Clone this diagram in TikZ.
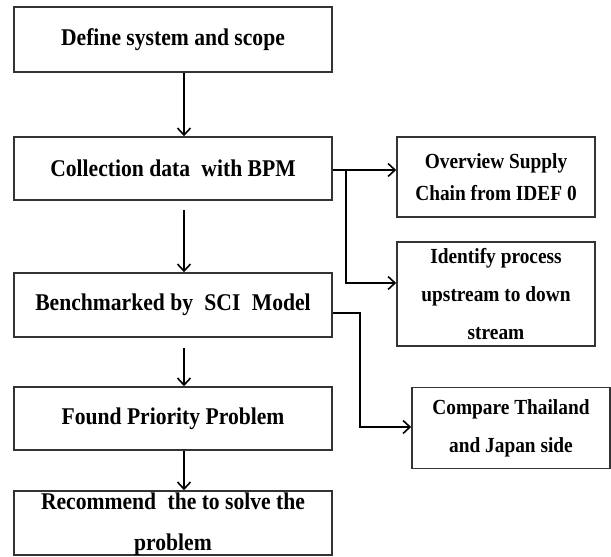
\documentclass[tikz,border=0pt]{standalone}
\usepackage{fontspec}
\setmainfont[FakeStretch=0.9]{Liberation Serif}
\usetikzlibrary{arrows.meta}
\begin{document}
\begin{tikzpicture}[x=1pt,y=-1pt,
  box/.style={draw=black!80, line width=1.6pt, rectangle, inner sep=0pt, align=center,
    font=\bfseries\fontsize{24}{28}\selectfont},
  mainbox/.style={box, minimum width=318pt},
  sidebox/.style={box, minimum width=198pt, font=\bfseries\fontsize{21.5}{38}\selectfont},
  txt/.style={inner sep=0pt, font=\bfseries\fontsize{24}{28}\selectfont},
  link/.style={draw=black, line width=1.6pt},
  flow/.style={link, -{Straight Barb[length=7pt,width=13pt,line width=1.6pt]}}]

\useasboundingbox (0,0) rectangle (611,557);

% main column
\node[mainbox, minimum height=65pt] (define) at (173,39.5) {Define system and scope};
\node[mainbox, minimum height=63pt] (collect) at (173,168.5) {Collection data\hspace{0.25em} with BPM};
\node[mainbox, minimum height=64pt] (bench) at (173,305) {Benchmarked by\hspace{0.25em} SCI\hspace{0.25em} Model};
\node[mainbox, minimum height=63pt] (found) at (173,418.5) {Found Priority Problem};
\node[mainbox, minimum height=64pt] (recommend) at (173,523) {};
\node[txt, anchor=base] (recA) at (173,509) {Recommend\hspace{0.25em} the to solve the};
\node[txt, anchor=base] (recB) at (173,550) {problem};

% side boxes
\node[sidebox, minimum height=80pt, font=\bfseries\fontsize{21.5}{32}\selectfont] (overview) at (496,177) {Overview Supply\\Chain from IDEF 0};
\node[sidebox, minimum height=104pt] (identify) at (496,294) {Identify process\\upstream to down\\stream};
\node[sidebox, minimum height=81pt] (compare) at (511,428) {Compare Thailand\\and Japan side};

% vertical flow
\coordinate (ax) at (184,0);
\draw[flow] (define.south -| ax) -- (collect.north -| ax);
\draw[flow, shorten <=9pt] (collect.south -| ax) -- (bench.north -| ax);
\draw[flow, shorten <=10pt] (bench.south -| ax) -- (found.north -| ax);
\draw[flow] (found.south -| ax) -- (recommend.north -| ax);

% branches to the side boxes
\coordinate (j1) at (346,170);
\coordinate (j2) at (346,283);
\draw[flow] (collect.east |- j1) -- (overview.west |- j1);
\draw[flow] (j1) -- (j2) -- (identify.west |- j2);

\coordinate (k1) at (360,313);
\coordinate (k2) at (360,427);
\draw[flow] (bench.east |- k1) -- (k1) -- (k2) -- (compare.west |- k2);
\end{tikzpicture}
\end{document}
